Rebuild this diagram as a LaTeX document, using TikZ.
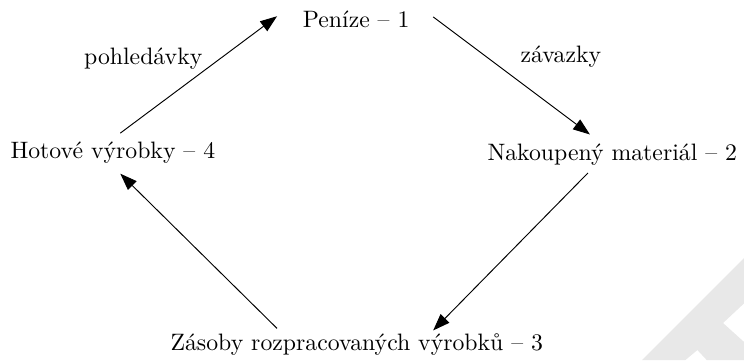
\documentclass[tikz,border=0pt]{standalone}
\usepackage{fontspec}
\usetikzlibrary{arrows.meta}
\pgfdeclarelayer{bg}
\pgfsetlayers{bg,main}
\tikzset{stage/.style={anchor=base, inner sep=0mm},
    flow/.style={->, >={Triangle[length=2.5mm, width=1.8mm]}}}

\begin{document}
\begin{tikzpicture}
    \useasboundingbox (0cm, 0cm) rectangle (11.01cm, 5.33cm);

    \node (p1) at (5.27cm, 4.93cm) [stage] {Peníze -- 1};
    \node (p2) at (9.06cm, 2.96cm) [stage] {Nakoupený materiál -- 2};
    \node (p3) at (5.28cm, 0.15cm) [stage] {Zásoby rozpracovaných výrobků -- 3};
    \node (p4) at (1.67cm, 2.99cm) [stage] {Hotové výrobky -- 4};

    \node (pohl) at (2.12cm, 4.37cm) [stage] {pohledávky};
    \node (zav) at (8.30cm, 4.41cm) [stage] {závazky};

    % arrow ends around the cycle
    \coordinate (a4) at (1.78cm, 3.36cm);
    \coordinate (b1) at (4.10cm, 5.09cm);
    \coordinate (a1) at (6.41cm, 5.08cm);
    \coordinate (b2) at (8.73cm, 3.34cm);
    \coordinate (a2) at (8.70cm, 2.77cm);
    \coordinate (b3) at (6.41cm, 0.44cm);
    \coordinate (a3) at (4.10cm, 0.47cm);
    \coordinate (b4) at (1.78cm, 2.76cm);

    \draw (a4) edge[flow] (b1);
    \draw (a1) edge[flow] (b2);
    \draw (a2) edge[flow] (b3);
    \draw (a3) edge[flow] (b4);

    \begin{pgfonlayer}{bg}
        \fill[gray!18] (11.01cm, 1.51cm) -- (9.50cm, 0cm) -- (10.14cm, 0cm)
            -- (10.32cm, 0.15cm) -- (10.46cm, 0cm) -- (11.01cm, 0cm)
            -- (11.01cm, 0.27cm) -- (10.70cm, 0.55cm) -- (11.01cm, 0.84cm) -- cycle;
    \end{pgfonlayer}
\end{tikzpicture}
\end{document}
